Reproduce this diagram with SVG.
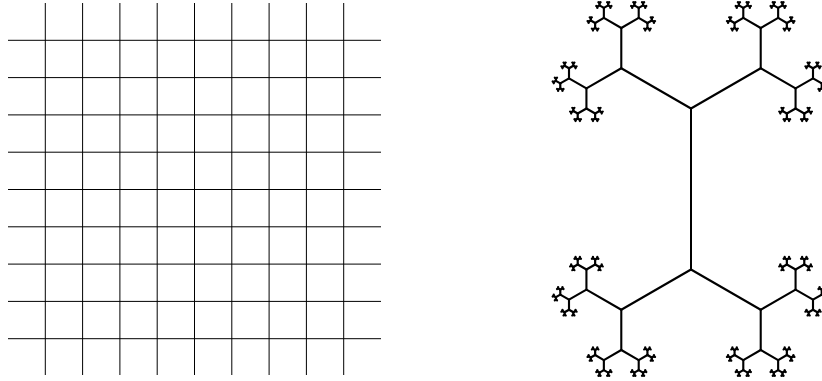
<svg xmlns="http://www.w3.org/2000/svg" width="822" height="381" viewBox="0 0 822 381">
<style>
.grid line{stroke:#000;stroke-width:1}
.br line{stroke:#000;stroke-linecap:round;fill:none}
</style>
<defs>
<g id="s0" class="br"><line x1="0" y1="0" x2="0" y2="-80.5" stroke-width="144"/></g>
<g id="s1" class="br"><line x1="0" y1="0" x2="0" y2="-80.5" stroke-width="72"/><use href="#s0" transform="translate(0,-80.5) rotate(-60) scale(0.5)"/><use href="#s0" transform="translate(0,-80.5) rotate(60) scale(0.5)"/></g>
<g id="s2" class="br"><line x1="0" y1="0" x2="0" y2="-80.5" stroke-width="35"/><use href="#s1" transform="translate(0,-80.5) rotate(-60) scale(0.5)"/><use href="#s1" transform="translate(0,-80.5) rotate(60) scale(0.5)"/></g>
<g id="s3" class="br"><line x1="0" y1="0" x2="0" y2="-80.5" stroke-width="17"/><use href="#s2" transform="translate(0,-80.5) rotate(-60) scale(0.5)"/><use href="#s2" transform="translate(0,-80.5) rotate(60) scale(0.5)"/></g>
<g id="s4" class="br"><line x1="0" y1="0" x2="0" y2="-80.5" stroke-width="8.4"/><use href="#s3" transform="translate(0,-80.5) rotate(-60) scale(0.5)"/><use href="#s3" transform="translate(0,-80.5) rotate(60) scale(0.5)"/></g>
<g id="s5" class="br"><line x1="0" y1="0" x2="0" y2="-80.5" stroke-width="4.2"/><use href="#s4" transform="translate(0,-80.5) rotate(-60) scale(0.5)"/><use href="#s4" transform="translate(0,-80.5) rotate(60) scale(0.5)"/></g>
<g id="s6" class="br"><line x1="0" y1="0" x2="0" y2="-80.5" stroke-width="2.1"/><use href="#s5" transform="translate(0,-80.5) rotate(-60) scale(0.5)"/><use href="#s5" transform="translate(0,-80.5) rotate(60) scale(0.5)"/></g>
</defs>
<rect width="822" height="381" fill="#fff"/>
<g id="grid" class="grid">
<line x1="45.3" y1="3" x2="45.3" y2="375"/>
<line x1="82.6" y1="3" x2="82.6" y2="375"/>
<line x1="119.9" y1="3" x2="119.9" y2="375"/>
<line x1="157.2" y1="3" x2="157.2" y2="375"/>
<line x1="194.5" y1="3" x2="194.5" y2="375"/>
<line x1="231.8" y1="3" x2="231.8" y2="375"/>
<line x1="269.1" y1="3" x2="269.1" y2="375"/>
<line x1="306.4" y1="3" x2="306.4" y2="375"/>
<line x1="343.7" y1="3" x2="343.7" y2="375"/>
<line x1="8" y1="40.3" x2="381" y2="40.3"/>
<line x1="8" y1="77.6" x2="381" y2="77.6"/>
<line x1="8" y1="114.9" x2="381" y2="114.9"/>
<line x1="8" y1="152.2" x2="381" y2="152.2"/>
<line x1="8" y1="189.5" x2="381" y2="189.5"/>
<line x1="8" y1="226.8" x2="381" y2="226.8"/>
<line x1="8" y1="264.1" x2="381" y2="264.1"/>
<line x1="8" y1="301.4" x2="381" y2="301.4"/>
<line x1="8" y1="338.7" x2="381" y2="338.7"/>
</g>
<g id="tree" class="br">
<line x1="691" y1="108.5" x2="691" y2="269.5" stroke-width="2"/>
<use href="#s6" transform="translate(691,108.5) rotate(-60)"/>
<use href="#s6" transform="translate(691,108.5) rotate(60)"/>
<use href="#s6" transform="translate(691,269.5) rotate(120)"/>
<use href="#s6" transform="translate(691,269.5) rotate(-120)"/>
</g>
</svg>
